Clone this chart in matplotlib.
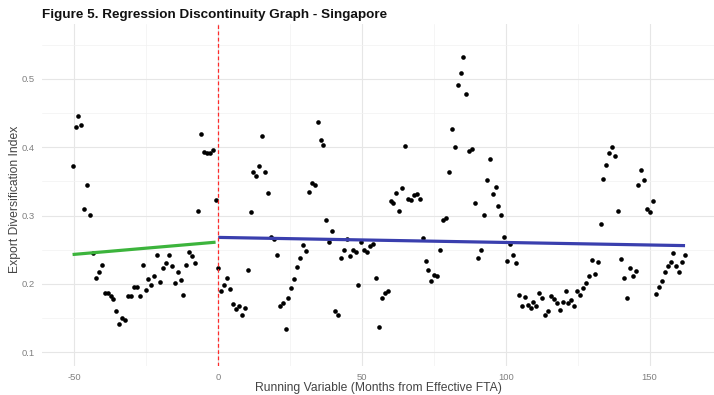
import matplotlib
matplotlib.use("Agg")
import matplotlib.pyplot as plt
import numpy as np
import pandas as pd

plt.rcParams['font.family'] = ['Liberation Sans', 'DejaVu Sans']

# Monthly export diversification index around the FTA entry into force
fta_effective = pd.Timestamp("2006-03-01")

pre_index = [
    0.372, 0.429, 0.446, 0.433, 0.310, 0.344, 0.301, 0.245, 0.208, 0.218,
    0.227, 0.186, 0.187, 0.183, 0.178, 0.160, 0.142, 0.150, 0.147, 0.182,
    0.183, 0.196, 0.196, 0.182, 0.227, 0.191, 0.207, 0.198, 0.212, 0.242,
    0.203, 0.223, 0.231, 0.242, 0.226, 0.202, 0.218, 0.206, 0.184, 0.228,
    0.246, 0.241, 0.231, 0.307, 0.419, 0.393, 0.392, 0.391, 0.396, 0.322,
]

post_index = [
    0.223, 0.190, 0.199, 0.208, 0.192, 0.171, 0.163, 0.167, 0.155, 0.165,
    0.221, 0.305, 0.363, 0.358, 0.372, 0.416, 0.363, 0.333, 0.269, 0.266,
    0.243, 0.167, 0.172, 0.134, 0.179, 0.194, 0.207, 0.225, 0.238, 0.257,
    0.248, 0.334, 0.348, 0.345, 0.436, 0.411, 0.403, 0.293, 0.261, 0.278,
    0.161, 0.154, 0.238, 0.250, 0.266, 0.241, 0.249, 0.246, 0.198, 0.261,
    0.249, 0.247, 0.255, 0.259, 0.208, 0.137, 0.179, 0.187, 0.190, 0.321,
    0.318, 0.333, 0.307, 0.340, 0.402, 0.324, 0.323, 0.330, 0.331, 0.324,
    0.267, 0.234, 0.221, 0.205, 0.213, 0.211, 0.249, 0.293, 0.297, 0.364,
    0.426, 0.400, 0.491, 0.508, 0.532, 0.477, 0.395, 0.397, 0.318, 0.238,
    0.250, 0.301, 0.352, 0.383, 0.332, 0.341, 0.314, 0.301, 0.268, 0.234,
    0.258, 0.243, 0.230, 0.184, 0.168, 0.181, 0.169, 0.165, 0.174, 0.167,
    0.187, 0.179, 0.155, 0.161, 0.183, 0.178, 0.172, 0.162, 0.173, 0.190,
    0.172, 0.176, 0.167, 0.190, 0.184, 0.194, 0.201, 0.211, 0.235, 0.215,
    0.232, 0.288, 0.353, 0.374, 0.391, 0.400, 0.387, 0.306, 0.237, 0.209,
    0.180, 0.223, 0.212, 0.219, 0.344, 0.367, 0.352, 0.310, 0.305, 0.321,
    0.185, 0.195, 0.205, 0.217, 0.226, 0.232, 0.245, 0.226, 0.217, 0.232,
    0.242,
]

# Local linear fits on each side of the cutoff (value at first and last point)
pre_fit = [0.243, 0.261]
post_fit = [0.268, 0.256]

x_ticks = [-50, 0, 50, 100, 150]
y_ticks = [0.1, 0.2, 0.3, 0.4, 0.5]

# Running variable: days since the effective date expressed in 30-day months
pre_dates = pd.date_range(end=fta_effective - pd.DateOffset(months=1),
                          periods=len(pre_index), freq="MS")
post_dates = pd.date_range(start=fta_effective, periods=len(post_index), freq="MS")
pre_x = np.array((pre_dates - fta_effective).days) / 30.0
post_x = np.array((post_dates - fta_effective).days) / 30.0

W, H = 714, 395
fig = plt.figure(figsize=(W / 100, H / 100), dpi=100)
left, right, top, bottom = 42, 714, 24, 366
ax = fig.add_axes([left / W, 1 - bottom / H, (right - left) / W, (bottom - top) / H])

ax.set_xlim(-61.3, 172.4)
ax.set_ylim(0.080, 0.580)

# grid (minimal theme look)
ax.set_xticks(x_ticks)
ax.set_yticks(y_ticks)
ax.set_xticks([-25, 25, 75, 125], minor=True)
ax.set_yticks([0.15, 0.25, 0.35, 0.45, 0.55], minor=True)
ax.grid(which="major", color="#e6e6e6", linewidth=0.8)
ax.grid(which="minor", color="#f2f2f2", linewidth=0.5)
ax.set_axisbelow(True)
for s in ax.spines.values():
    s.set_visible(False)
ax.tick_params(which="both", length=0)
ax.tick_params(axis="x", pad=5, labelsize=6.8, labelcolor="#808080")
ax.tick_params(axis="y", pad=5, labelsize=6.8, labelcolor="#808080")
ax.set_xticklabels([str(t) for t in x_ticks])
ax.set_yticklabels([f"{t:.1f}" for t in y_ticks])

ax.scatter(pre_x, pre_index, s=11, color="black", linewidths=0, zorder=3)
ax.scatter(post_x, post_index, s=11, color="black", linewidths=0, zorder=3)

ax.plot([pre_x[0], pre_x[-1]], pre_fit, color="#3cb43c", linewidth=2.3,
        solid_capstyle="butt", zorder=4)
ax.plot([post_x[0], post_x[-1]], post_fit, color="#3a3fae", linewidth=2.3,
        solid_capstyle="butt", zorder=4)

ax.axvline(0, color="#ff2a2a", linewidth=0.9, linestyle=(0, (3, 2)), zorder=5)

fig.text(left / W, 1 - 15 / H, "Figure 5. Regression Discontinuity Graph - Singapore",
         ha="left", va="center", fontsize=9.7, fontweight="bold", color="#111111")
fig.text((left + right) / 2 / W, 1 - 388 / H,
         "Running Variable (Months from Effective FTA)",
         ha="center", va="center", fontsize=8.7, color="#444444")
fig.text(15 / W, 1 - 199 / H, "Export Diversification Index",
         ha="center", va="center", rotation=90, fontsize=8.7, color="#444444")

fig.savefig("out.png", dpi=100, facecolor="white")
